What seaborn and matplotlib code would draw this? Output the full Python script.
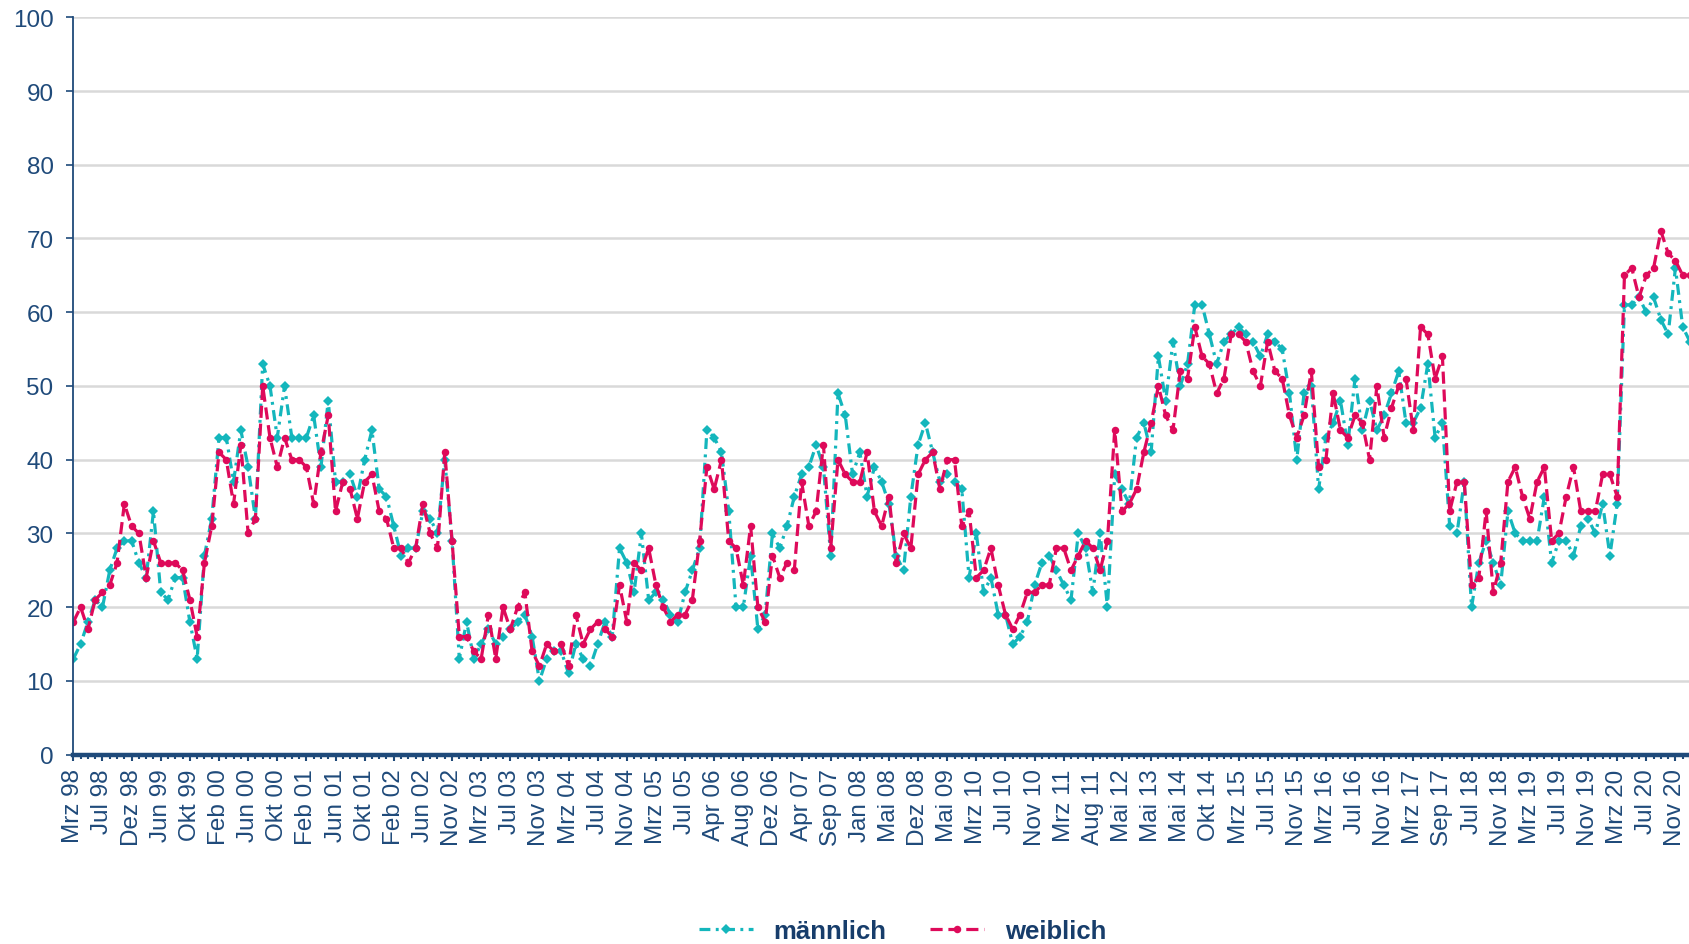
import matplotlib
matplotlib.use("Agg")
import matplotlib.pyplot as plt
from matplotlib.ticker import MultipleLocator
import pandas as pd
import seaborn as sns

# Axis labels shown under every fourth survey wave
tick_labels = [
    "Mrz 98", "Jul 98", "Dez 98", "Jun 99", "Okt 99", "Feb 00", "Jun 00", "Okt 00",
    "Feb 01", "Jun 01", "Okt 01", "Feb 02", "Jun 02", "Nov 02", "Mrz 03", "Jul 03",
    "Nov 03", "Mrz 04", "Jul 04", "Nov 04", "Mrz 05", "Jul 05", "Apr 06", "Aug 06",
    "Dez 06", "Apr 07", "Sep 07", "Jan 08", "Mai 08", "Dez 08", "Mai 09", "Mrz 10",
    "Jul 10", "Nov 10", "Mrz 11", "Aug 11", "Mai 12", "Mai 13", "Mai 14", "Okt 14",
    "Mrz 15", "Jul 15", "Nov 15", "Mrz 16", "Jul 16", "Nov 16", "Mrz 17", "Sep 17",
    "Jul 18", "Nov 18", "Mrz 19", "Jul 19", "Nov 19", "Mrz 20", "Jul 20", "Nov 20",
]

# Share per survey wave (percent)
maennlich = [
    13, 15, 18, 21, 20, 25, 28, 29, 29, 26, 24, 33, 22, 21, 24, 24, 18, 13, 27, 32,
    43, 43, 37, 44, 39, 32, 53, 50, 43, 50, 43, 43, 43, 46, 39, 48, 37, 37, 38, 35,
    40, 44, 36, 35, 31, 27, 28, 28, 33, 32, 30, 40, 29, 13, 18, 13, 15, 17, 15, 16,
    17, 18, 19, 16, 10, 13, 14, 14, 11, 15, 13, 12, 15, 18, 16, 28, 26, 22, 30, 21,
    22, 21, 19, 18, 22, 25, 28, 44, 43, 41, 33, 20, 20, 27, 17, 19, 30, 28, 31, 35,
    38, 39, 42, 39, 27, 49, 46, 38, 41, 35, 39, 37, 34, 27, 25, 35, 42, 45, 41, 37,
    38, 37, 36, 24, 30, 22, 24, 19, 19, 15, 16, 18, 23, 26, 27, 25, 23, 21, 30, 28,
    22, 30, 20, 38, 36, 34, 43, 45, 41, 54, 48, 56, 50, 53, 61, 61, 57, 53, 56, 57,
    58, 57, 56, 54, 57, 56, 55, 49, 40, 49, 50, 36, 43, 45, 48, 42, 51, 44, 48, 44,
    46, 49, 52, 45, 45, 47, 53, 43, 45, 31, 30, 37, 20, 26, 29, 26, 23, 33, 30, 29,
    29, 29, 35, 26, 29, 29, 27, 31, 32, 30, 34, 27, 34, 61, 61, 62, 60, 62, 59, 57,
    66, 58, 56,
]

weiblich = [
    18, 20, 17, 21, 22, 23, 26, 34, 31, 30, 24, 29, 26, 26, 26, 25, 21, 16, 26, 31,
    41, 40, 34, 42, 30, 32, 50, 43, 39, 43, 40, 40, 39, 34, 41, 46, 33, 37, 36, 32,
    37, 38, 33, 32, 28, 28, 26, 28, 34, 30, 28, 41, 29, 16, 16, 14, 13, 19, 13, 20,
    17, 20, 22, 14, 12, 15, 14, 15, 12, 19, 15, 17, 18, 17, 16, 23, 18, 26, 25, 28,
    23, 20, 18, 19, 19, 21, 29, 39, 36, 40, 29, 28, 23, 31, 20, 18, 27, 24, 26, 25,
    37, 31, 33, 42, 28, 40, 38, 37, 37, 41, 33, 31, 35, 26, 30, 28, 38, 40, 41, 36,
    40, 40, 31, 33, 24, 25, 28, 23, 19, 17, 19, 22, 22, 23, 23, 28, 28, 25, 27, 29,
    28, 25, 29, 44, 33, 34, 36, 41, 45, 50, 46, 44, 52, 51, 58, 54, 53, 49, 51, 57,
    57, 56, 52, 50, 56, 52, 51, 46, 43, 46, 52, 39, 40, 49, 44, 43, 46, 45, 40, 50,
    43, 47, 50, 51, 44, 58, 57, 51, 54, 33, 37, 37, 23, 24, 33, 22, 26, 37, 39, 35,
    32, 37, 39, 29, 30, 35, 39, 33, 33, 33, 38, 38, 35, 65, 66, 62, 65, 66, 71, 68,
    67, 65, 65,
]

series_names = ["männlich", "weiblich"]

CYAN = "#14B6BC"
PINK = "#DE0A5A"
NAVY = "#1F4A7A"
NAVY_DARK = "#173D6B"
GRID = "#D9D9D9"

LW = 2.3
MS = 5.4
DASH_M = (3.4, 1.7, 0.9, 1.7)
DASH_W = (3.8, 1.8)

sns.set_theme(style="white")
plt.rcParams["font.family"] = ["Liberation Sans", "DejaVu Sans"]

n = len(weiblich)
df = pd.DataFrame({
    "Welle": list(range(n)) * 2,
    "Anteil": maennlich + weiblich,
    "Geschlecht": [series_names[0]] * n + [series_names[1]] * n,
})

W, H = 1690, 945
fig = plt.figure(figsize=(W / 100, H / 100), dpi=100)
left, bottom_px, top_px = 73, 755.6, 18.3
ax = fig.add_axes([left / W, 1 - bottom_px / H, 1 - left / W, (bottom_px - top_px) / H])

sns.lineplot(
    data=df, x="Welle", y="Anteil",
    hue="Geschlecht", style="Geschlecht",
    hue_order=series_names, style_order=series_names,
    palette={series_names[0]: CYAN, series_names[1]: PINK},
    dashes={series_names[0]: DASH_M, series_names[1]: DASH_W},
    markers={series_names[0]: "D", series_names[1]: "o"},
    markersize=MS, markeredgewidth=0, linewidth=LW,
    ax=ax, legend=False,
)

ax.set_xlim(-0.05, 222.0)
ax.set_ylim(0, 100)
ax.set_xlabel("")
ax.set_ylabel("")

# Horizontal gridlines
ax.yaxis.set_major_locator(MultipleLocator(10))
ax.grid(axis="y", color=GRID, linewidth=1.8)
ax.grid(axis="x", visible=False)
ax.set_axisbelow(True)

# Category axis: label every fourth wave, small tick on every wave
ax.set_xticks(range(0, 4 * len(tick_labels), 4))
ax.set_xticklabels(tick_labels, rotation=90, ha="center", va="top")
ax.xaxis.set_minor_locator(MultipleLocator(1))

for side in ("top", "right"):
    ax.spines[side].set_visible(False)
ax.spines["left"].set_color(NAVY)
ax.spines["left"].set_linewidth(1.3)
ax.spines["bottom"].set_color(NAVY)
ax.spines["bottom"].set_linewidth(3.2)

ax.tick_params(axis="y", which="major", direction="out", length=5, width=1.2,
               color=NAVY, labelcolor=NAVY, labelsize=17.5, pad=9, left=True)
ax.tick_params(axis="x", which="major", direction="out", length=4, width=1.5,
               color=NAVY, labelcolor=NAVY, labelsize=17.5, pad=6, bottom=True)
ax.tick_params(axis="x", which="minor", direction="out", length=3, width=1.5,
               color=NAVY, bottom=True)

handles = [
    plt.Line2D([], [], color=CYAN, linewidth=LW, dashes=DASH_M,
               marker="D", markersize=MS, markeredgewidth=0),
    plt.Line2D([], [], color=PINK, linewidth=LW, dashes=DASH_W,
               marker="o", markersize=MS, markeredgewidth=0),
]
leg = fig.legend(handles, series_names, loc="center", bbox_to_anchor=(0.534, 0.0135),
                 ncol=2, frameon=False, handlelength=2.1, columnspacing=1.7,
                 handletextpad=0.8, prop={"size": 18.5, "weight": "bold"})
for t in leg.get_texts():
    t.set_color(NAVY_DARK)

fig.savefig("out.png", dpi=100)
